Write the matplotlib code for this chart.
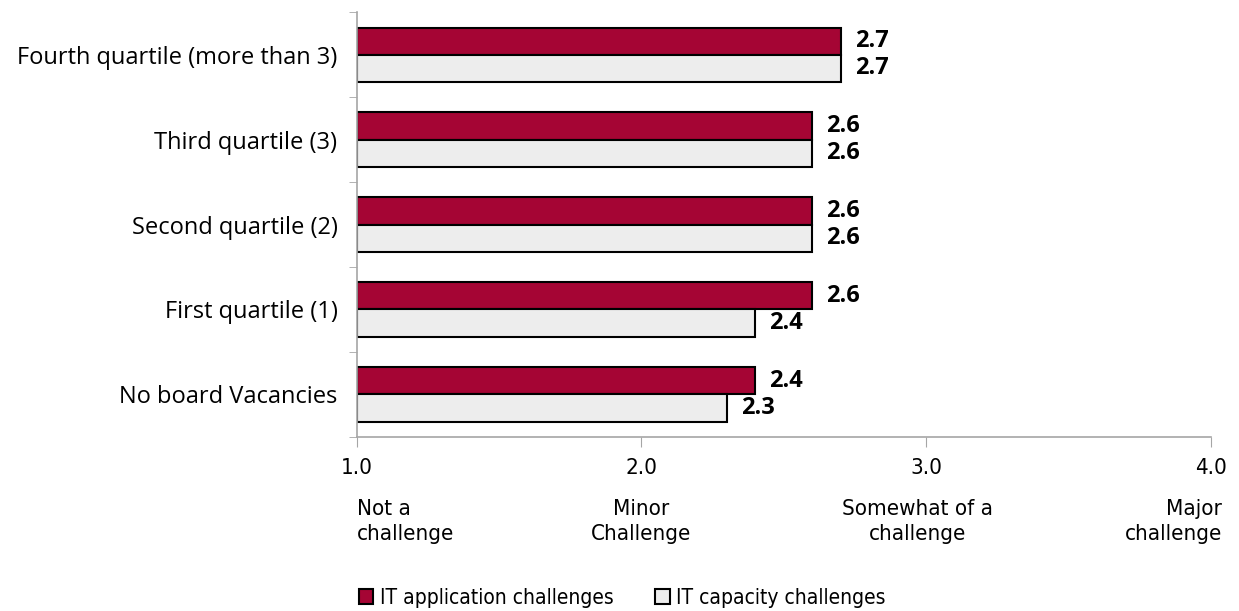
import matplotlib.pyplot as plt
import matplotlib.transforms as mtransforms
from matplotlib import font_manager
import numpy as np

categories = ['No board Vacancies', 'First quartile (1)', 'Second quartile (2)',
              'Third quartile (3)', 'Fourth quartile (more than 3)']
app_vals = [2.4, 2.6, 2.6, 2.6, 2.7]
cap_vals = [2.3, 2.4, 2.6, 2.6, 2.7]
series_names = ['IT application challenges', 'IT capacity challenges']
xticks = [1.0, 2.0, 3.0, 4.0]
scale_labels = ['Not a\nchallenge', 'Minor\nChallenge', 'Somewhat of a\nchallenge', 'Major\nchallenge']

red = '#A50534'
grey = '#EDEDED'
axis_grey = '#A6A6A6'

narrow = font_manager.FontProperties(family='DejaVu Sans', stretch='condensed', size=16)
narrow_leg = font_manager.FontProperties(family='DejaVu Sans', stretch='condensed', size=15)

fig = plt.figure(figsize=(12.39, 6.11), dpi=100)
ax = fig.add_axes([0.288, 0.285, 0.689, 0.695])

y = np.arange(len(categories))
h = 0.32
ax.barh(y + h / 2, [v - 1 for v in app_vals], height=h, left=1, color=red,
        edgecolor='black', linewidth=1.5, label=series_names[0])
ax.barh(y - h / 2, [v - 1 for v in cap_vals], height=h, left=1, color=grey,
        edgecolor='black', linewidth=1.5, label=series_names[1])

# value labels
for yi, v in zip(y, app_vals):
    ax.text(v + 0.05, yi + h / 2, '%.1f' % v, va='center', ha='left',
            fontsize=17, fontweight='bold', family='Open Sans')
for yi, v in zip(y, cap_vals):
    ax.text(v + 0.05, yi - h / 2, '%.1f' % v, va='center', ha='left',
            fontsize=17, fontweight='bold', family='Open Sans')

ax.set_xlim(1, 4)
ax.set_ylim(-0.5, len(categories) - 0.5)
ax.set_xticks(xticks)
ax.set_xticklabels(['%.1f' % t for t in xticks], fontproperties=narrow)
ax.set_yticks(y)
ax.set_yticklabels(categories, fontsize=17, family='Open Sans')
ax.set_yticks(np.arange(-0.5, len(categories), 1), minor=True)
ax.tick_params(axis='y', which='major', length=0, pad=14)
ax.tick_params(axis='y', which='minor', length=6, color=axis_grey, direction='out')
ax.tick_params(axis='x', length=7, color=axis_grey, pad=8)

for s in ['top', 'right']:
    ax.spines[s].set_visible(False)
for s in ['left', 'bottom']:
    ax.spines[s].set_color(axis_grey)
    ax.spines[s].set_linewidth(1.2)

# scale descriptions under the tick labels
trans = mtransforms.blended_transform_factory(ax.transData, fig.transFigure)
aligns = ['left', 'center', 'center', 'right']
offsets = [0.0, 0.0, -0.03, 0.04]
for t, lab, al, off in zip(xticks, scale_labels, aligns, offsets):
    ax.text(t + off, 0.146, lab, transform=trans, ha=al, va='center',
            fontproperties=narrow, linespacing=1.3, clip_on=False)

fig.legend(loc='center', bbox_to_anchor=(0.502, 0.022), ncol=2, frameon=False,
           prop=narrow_leg, handlelength=0.7, handleheight=0.7,
           handletextpad=0.3, columnspacing=2.0)

fig.savefig('out.png', dpi=100)
